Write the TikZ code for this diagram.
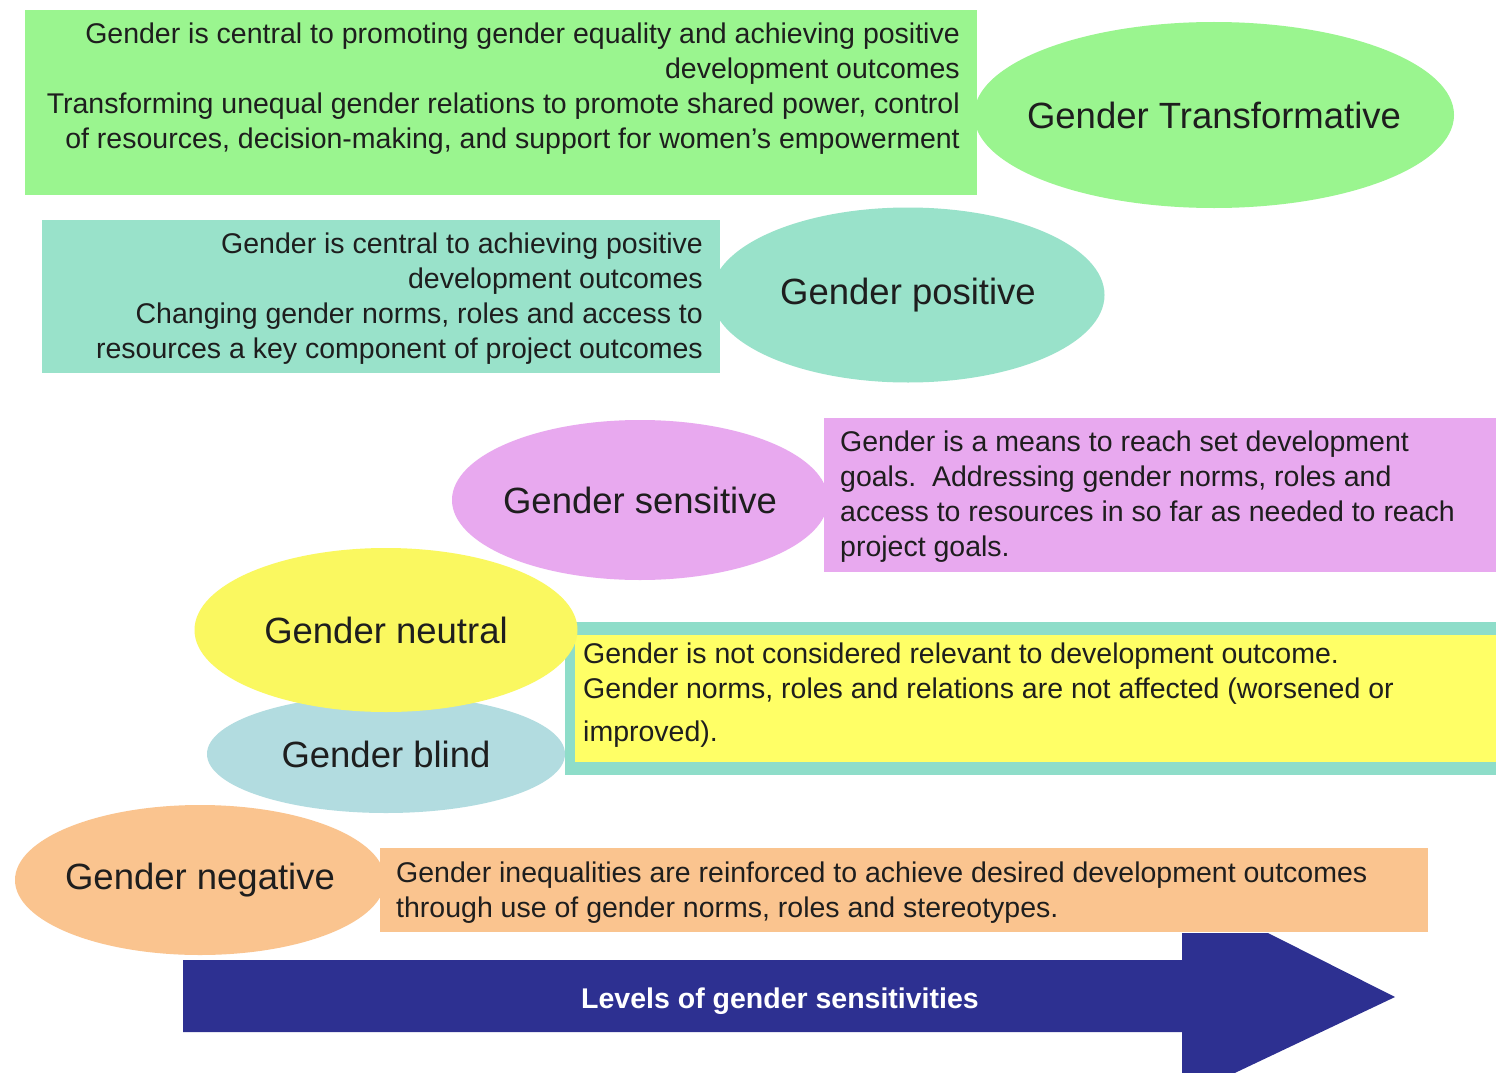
\documentclass[tikz,border=0pt]{standalone}
\usepackage{fontspec}
\setmainfont{Liberation Sans}
\usetikzlibrary{shapes.geometric}
\definecolor{cgreen}{RGB}{154,245,143}
\definecolor{cteal}{RGB}{153,226,202}
\definecolor{cviolet}{RGB}{232,169,239}
\definecolor{cyellow}{RGB}{250,248,96}
\definecolor{cyelbox}{RGB}{255,255,102}
\definecolor{cblue}{RGB}{178,220,224}
\definecolor{cborder}{RGB}{142,221,201}
\definecolor{corange}{RGB}{250,196,143}
\definecolor{cnavy}{RGB}{45,48,145}
\definecolor{ctext}{RGB}{30,30,30}
\tikzset{
  oval/.style={ellipse, inner sep=0pt, outer sep=0pt},
  ovallabel/.style={inner sep=0pt, text=ctext, font=\fontsize{36.5}{40}\selectfont},
  desc/.style={inner sep=0pt, text=ctext, font=\fontsize{28.5}{35}\selectfont},
  band/.style={inner sep=0pt, outer sep=0pt, anchor=north west}
}
\begin{document}
\begin{tikzpicture}[x=1pt,y=-1pt]
\useasboundingbox (0,0) rectangle (1504,1073);
\clip (0,0) rectangle (1504,1073);
\fill[white] (0,0) rectangle (1504,1073);
% Gender transformative
\node[band, fill=cgreen, minimum width=952pt, minimum height=185pt] (b1) at (25,10) {};
\node[oval, fill=cgreen, minimum width=480pt, minimum height=186pt] (e1) at (1214,115) {};
\node[ovallabel] (l1) at (e1.center) {Gender Transformative};
\node[desc, align=right, anchor=north east] (t1) at (960,23) {Gender is central to promoting gender equality and achieving positive\\development outcomes\\Transforming unequal gender relations to promote shared power, control\\of resources, decision-making, and support for women's empowerment};
% Gender positive
\node[band, fill=cteal, minimum width=678pt, minimum height=153pt] (b2) at (42,220) {};
\node[oval, fill=cteal, minimum width=393pt, minimum height=175pt] (e2) at (908,295) {};
\node[ovallabel] (l2) at (e2.center) {Gender positive};
\node[desc, align=right, anchor=north east] (t2) at (703,233) {Gender is central to achieving positive\\development outcomes\\Changing gender norms, roles and access to\\resources a key component of project outcomes};
% Gender sensitive
\node[oval, fill=cviolet, minimum width=376pt, minimum height=160pt] (e3) at (640,500) {};
\node[ovallabel] (l3) at (e3.center) {Gender sensitive};
\node[band, fill=cviolet, minimum width=672pt, minimum height=154pt] (b3) at (824,418) {};
\node[desc, align=left, anchor=north west] (t3) at (840,431) {Gender is a means to reach set development\\goals.\ \ Addressing gender norms, roles and\\access to resources in so far as needed to reach\\project goals.};
% Gender neutral / blind
\node[band, fill=cborder, minimum width=931pt, minimum height=153pt] (b4) at (565,622) {};
\node[band, fill=cyelbox, minimum width=921pt, minimum height=127pt] (b4i) at (575,635) {};
\node[oval, fill=cblue, minimum width=358pt, minimum height=118pt] (e5) at (386,754) {};
\node[oval, fill=cyellow, minimum width=383pt, minimum height=164pt] (e4) at (386,630) {};
\node[ovallabel] (l4) at (e4.center) {Gender neutral};
\node[ovallabel] (l5) at (e5.center) {Gender blind};
\node[desc, align=left, anchor=north west] (t4) at (583,643) {Gender is not considered relevant to development outcome.\\Gender norms, roles and relations are not affected (worsened or\\[8pt]improved).};
% Gender negative
\node[band, fill=corange, minimum width=1048pt, minimum height=84pt] (b5) at (380,848) {};
\node[oval, fill=corange, minimum width=370pt, minimum height=150pt] (e6) at (200,880) {};
\node[ovallabel] (l6) at (e6.center) {Gender negative};
\node[desc, align=left, anchor=north west] (t5) at (396,862) {Gender inequalities are reinforced to achieve desired development outcomes\\through use of gender norms, roles and stereotypes.};
% Arrow
\fill[cnavy] (183,960) -- (1182,960) -- (1182,933) -- (1268,933) -- (1395,997) -- (1182,1098) -- (1182,1032) -- (183,1032) -- cycle;
\node[inner sep=0pt, text=white, font=\bfseries\fontsize{28.5}{32}\selectfont] (arrowlabel) at (780,1001) {Levels of gender sensitivities};
\end{tikzpicture}
\end{document}
